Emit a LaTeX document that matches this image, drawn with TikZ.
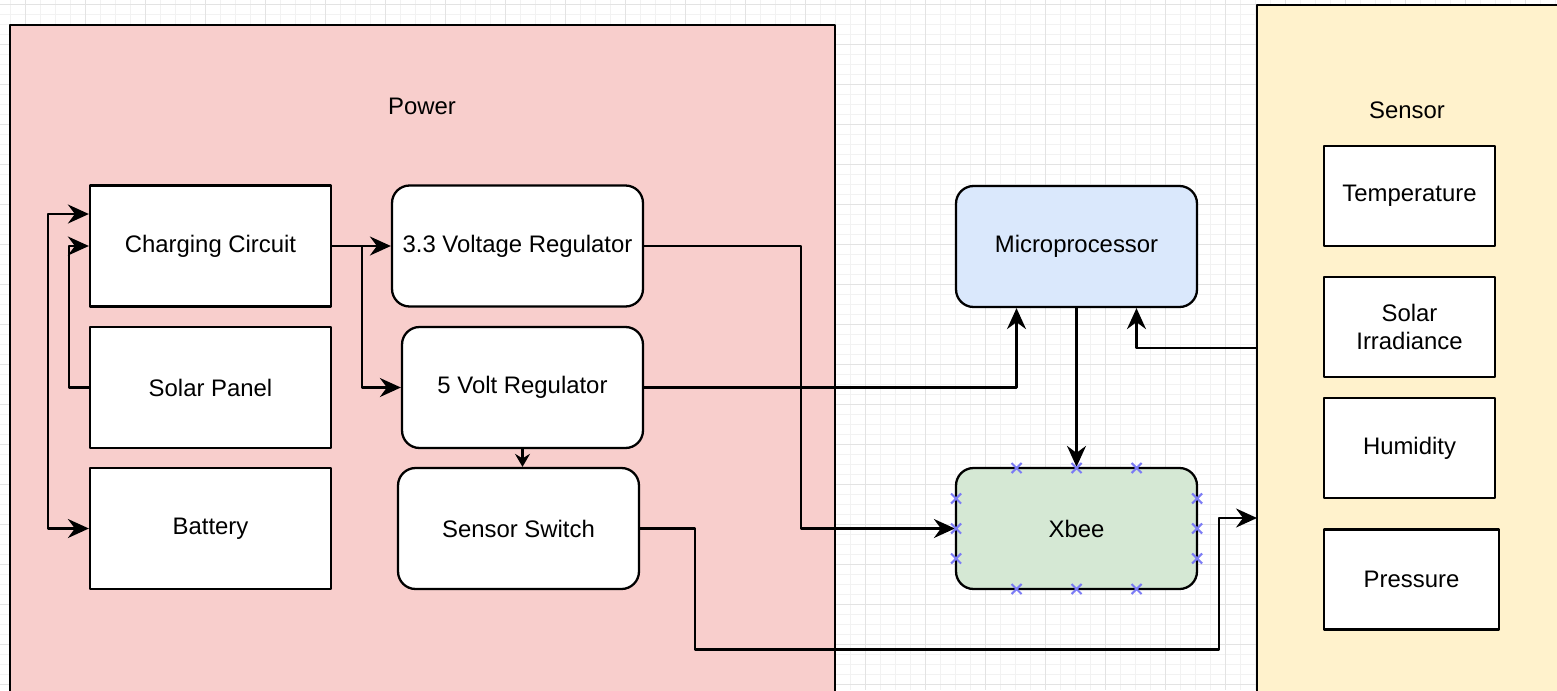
\documentclass[tikz,border=0pt]{standalone}
\usepackage{fontspec}
\setmainfont{Liberation Sans}
\usetikzlibrary{arrows.meta,positioning}
\definecolor{powerfill}{HTML}{F8CECC}
\definecolor{sensorfill}{HTML}{FFF2CC}
\definecolor{mpfill}{HTML}{DAE8FC}
\definecolor{xbfill}{HTML}{D5E8D4}
\definecolor{pincol}{HTML}{7B7BF5}
\begin{document}
\begin{tikzpicture}[x=0.02cm,y=-0.02cm,>={Stealth[length=4.2mm,width=3.8mm,inset=1.4mm]},line join=round,
		font=\fontsize{13.6}{16}\selectfont,
		box/.style={draw,line width=1.3pt,fill=white,inner sep=1pt,minimum width=4.82cm,minimum height=2.42cm,align=center},
		rbox/.style={box,rounded corners=3.5mm},
		sbox/.style={box,minimum width=3.42cm,minimum height=2cm},
		wire/.style={->,line width=1.3pt},
		pin/.style={pincol,line width=1.2pt}]
	\clip (0,0) rectangle (1557,690);
	\fill[white] (0,0) rectangle (1557,690);
	% grid
	\foreach \x in {10,25,...,1555} \draw[black!5] (\x,0)--(\x,690);
	\foreach \y in {4,14,...,690} \draw[black!5] (0,\y)--(1557,\y);
	\foreach \x in {25,85,...,1555} \draw[black!11] (\x,0)--(\x,690);
	\foreach \y in {4,44,...,690} \draw[black!11] (0,\y)--(1557,\y);
	% containers
	\node[draw,line width=1.3pt,fill=powerfill,minimum width=16.5cm,minimum height=13.7cm] (power) at (422.5,367.5) {};
	\node[draw,line width=1.3pt,fill=sensorfill,minimum width=6.46cm,minimum height=14.1cm] (sensor) at (1418.5,357.5) {};
	\node (powerlbl) at (422,106) {Power};
	\node (sensorlbl) at (1407,110) {Sensor};
	\coordinate (s out) at (1257,348);
	\coordinate (s in) at (1257,518);
	% power blocks
	\node[box] (cc) at (210.5,246) {Charging Circuit};
	\node[box] (sp) at (210.5,387.5) {Solar Panel};
	\node[box] (bat) at (210.5,528.5) {Battery};
	\node[rbox,minimum width=5.02cm] (r33) at (517.5,246) {3.3 Voltage Regulator};
	\node[rbox] (r5) at (522.5,387.5) {5 Volt Regulator};
	\node[rbox] (sw) at (518.5,528.5) {Sensor Switch};
	% middle
	\node[rbox,fill=mpfill] (mp) at (1076.5,246.5) {Microprocessor};
	\node[rbox,fill=xbfill] (xb) at (1076.5,528.5) {Xbee};
	% sensors
	\foreach \n/\y/\t in {temp/196/Temperature,irr/327/{Solar\\Irradiance},hum/448/Humidity}
		\node[sbox] (\n) at (1409.5,\y) {\t};
	\node[sbox,minimum width=3.5cm] (pres) at (1411.5,579.5) {Pressure};
	% connectors
	\draw[wire,<->] ([yshift=0.64cm]cc.west) -- ++(-41,0) |- (bat.west);
	\draw[wire] (sp.west) -- ++(-20,0) |- (cc.west);
	\draw[wire] (cc.east) -- (r33.west);
	\draw[wire] (cc.east) -- ++(30,0) |- (r5.west);
	\draw[wire] (r33.east) -- ++(157,0) |- (xb.west);
	\draw[wire] (r5.east) -| ([xshift=-1.2cm]mp.south);
	\draw[line width=1.3pt,-{Stealth[length=2.6mm,width=3mm,inset=0.9mm]}] (r5.south) -- (r5.south |- sw.north);
	\draw[wire] (sw.east) -- ++(55,0) -- ++(0,121) -- ++(524,0) |- (s in);
	\draw[wire] (mp.south) -- (xb.north);
	\draw[wire] (s out) -| ([xshift=1.2cm]mp.south);
	% connection points
	\foreach \dx/\dy in {-60/-60.5,0/-60.5,60/-60.5,-60/60.5,0/60.5,60/60.5,
		-120.5/-30,-120.5/0,-120.5/30,120.5/-30,120.5/0,120.5/30}
		\draw[pin] (1076.5+\dx-5,528.5+\dy-5)--++(10,10) ++(-10,0)--++(10,-10);
\end{tikzpicture}
\end{document}
